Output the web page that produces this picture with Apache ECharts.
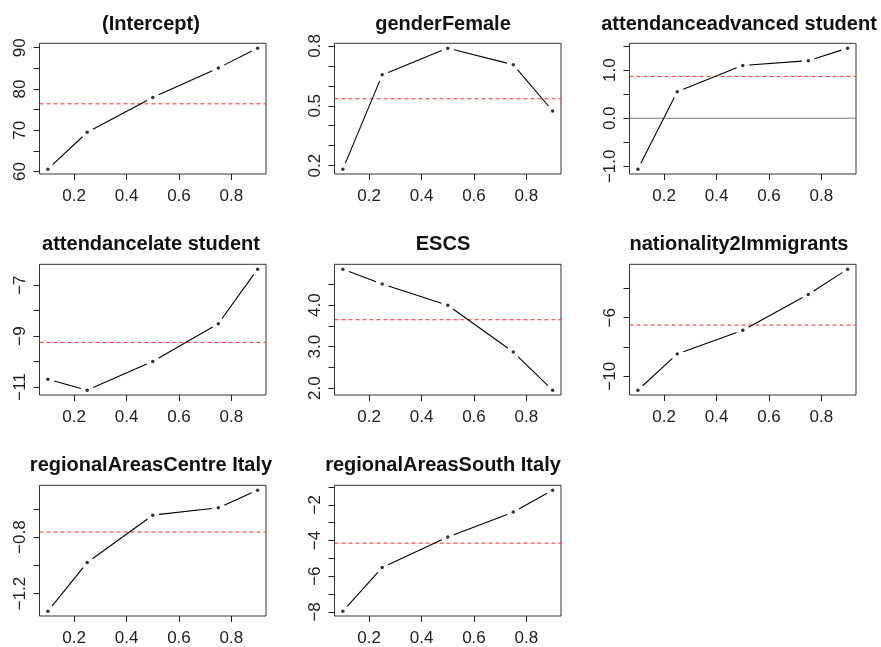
<!DOCTYPE html>
<html>
<head>
<meta charset="utf-8">
<script src="https://cdn.jsdelivr.net/npm/echarts@6/dist/echarts.min.js"></script>
<style>
  html, body { margin: 0; padding: 0; background: #fff; }
  #main { width: 881px; height: 647px; }
</style>
</head>
<body>
<div id="main"></div>
<script>
// quantiles
const tau = [0.1, 0.25, 0.5, 0.75, 0.9];

const panelTitles = [
  '(Intercept)', 'genderFemale', 'attendanceadvanced student',
  'attendancelate student', 'ESCS', 'nationality2Immigrants',
  'regionalAreasCentre Italy', 'regionalAreasSouth Italy'
];

// quantile regression coefficients, one array per term
const qrIntercept  = [60.56, 69.5, 77.96, 85.07, 89.9];
const qrGender     = [0.182, 0.655, 0.789, 0.706, 0.474];
const qrAdvanced   = [-1.06, 0.554, 1.10, 1.20, 1.46];
const qrLate       = [-10.7, -11.13, -10.0, -8.52, -6.37];
const qrESCS       = [4.87, 4.51, 4.0, 2.87, 1.95];
const qrImmigrants = [-10.95, -8.48, -6.86, -4.41, -2.68];
const qrCentre     = [-1.325, -0.981, -0.645, -0.593, -0.468];
const qrSouth      = [-7.96, -5.51, -3.81, -2.41, -1.18];

// OLS estimates (red dashed lines)
const olsEstimates = [76.4, 0.535, 0.872, -9.25, 3.65, -6.5, -0.765, -4.15];

// axis ticks and labels
const xTicks = [0.2, 0.4, 0.6, 0.8];
const yTicks = [
  [60, 65, 70, 75, 80, 85, 90],
  [0.2, 0.3, 0.4, 0.5, 0.6, 0.7, 0.8],
  [-1, -0.5, 0, 0.5, 1, 1.5],
  [-11, -10, -9, -8, -7],
  [2, 2.5, 3, 3.5, 4, 4.5],
  [-10, -8, -6, -4],
  [-1.2, -1.0, -0.8, -0.6],
  [-8, -7, -6, -5, -4, -3, -2, -1]
];
const yLabels = [
  [60, 70, 80, 90],
  [0.2, 0.5, 0.8],
  [-1, 0, 1],
  [-11, -9, -7],
  [2, 3, 4],
  [-10, -6],
  [-1.2, -0.8],
  [-8, -6, -4, -2]
];
const yDecimals = [0, 1, 1, 0, 1, 0, 1, 0];

const coefs = [qrIntercept, qrGender, qrAdvanced, qrLate, qrESCS, qrImmigrants, qrCentre, qrSouth];

const chart = echarts.init(document.getElementById('main'));

const colLeft = [39.5, 334.5, 629.5];
const titleCenter = [151, 443, 739];
const rowTop = [43.3, 264.3, 485.3];
const titleTop = [14, 234, 455];
const boxW = 226.5, boxH = 130.7;
const font = 'Liberation Sans, Arial, Helvetica, sans-serif';
const GAP = 6.5;

const grids = [], xAxes = [], yAxes = [], series = [], titles = [];

function rRange(vals) {
  const lo = Math.min(...vals), hi = Math.max(...vals);
  const d = (hi - lo) * 0.04;
  return [lo - d, hi + d];
}
const xr = rRange(tau);

coefs.forEach((vals, i) => {
  const r = Math.floor(i / 3), c = i % 3;
  grids.push({
    left: colLeft[c], top: rowTop[r], width: boxW, height: boxH,
    show: true, borderColor: '#333', borderWidth: 1, backgroundColor: 'transparent',
    containLabel: false, outerBoundsMode: 'none'
  });
  titles.push({
    text: panelTitles[i], left: titleCenter[c], top: titleTop[r], textAlign: 'center', padding: 0,
    textStyle: { fontFamily: font, fontSize: 20, fontWeight: 'bold', color: '#111' }
  });
  xAxes.push({
    type: 'value', gridIndex: i, min: xr[0], max: xr[1], position: 'bottom',
    axisLine: { show: false, onZero: false }, splitLine: { show: false },
    axisTick: { show: true, length: 6, customValues: xTicks, lineStyle: { color: '#222', width: 1 } },
    axisLabel: { customValues: xTicks, fontFamily: font, fontSize: 17, color: '#222', margin: 14,
      formatter: v => v.toFixed(1) }
  });
  const yr = rRange(vals);
  const dec = yDecimals[i];
  yAxes.push({
    type: 'value', gridIndex: i, min: yr[0], max: yr[1], position: 'left',
    axisLine: { show: false, onZero: false }, splitLine: { show: false },
    axisTick: { show: true, length: 6, customValues: yTicks[i], lineStyle: { color: '#222', width: 1 } },
    axisLabel: { customValues: yLabels[i], rotate: 90, fontFamily: font, fontSize: 17, color: '#222', margin: 11,
      formatter: v => v.toFixed(dec).replace('-', '\u2212') }
  });

  // zero reference line, only where 0 is inside the range
  if (yr[0] < 0 && yr[1] > 0) {
    series.push({
      type: 'line', xAxisIndex: i, yAxisIndex: i, data: [[xr[0], 0], [xr[1], 0]],
      showSymbol: false, silent: true, z: 1,
      lineStyle: { color: '#808080', width: 1, type: 'solid' }
    });
  }
  // OLS estimate
  series.push({
    type: 'line', xAxisIndex: i, yAxisIndex: i, data: [[xr[0], olsEstimates[i]], [xr[1], olsEstimates[i]]],
    showSymbol: false, silent: true, z: 1, color: '#ff2a2a',
    lineStyle: { color: '#ff2a2a', width: 1, type: [4, 3] }
  });

  // line segments with gaps around the points (type = "b")
  const segs = [];
  for (let k = 0; k < tau.length - 1; k++) segs.push([tau[k], vals[k], tau[k + 1], vals[k + 1]]);
  series.push({
    type: 'custom', xAxisIndex: i, yAxisIndex: i, data: segs, z: 2,
    encode: { x: [0, 2], y: [1, 3] }, clip: true, silent: true,
    renderItem: function (params, api) {
      const p0 = api.coord([api.value(0), api.value(1)]);
      const p1 = api.coord([api.value(2), api.value(3)]);
      const dx = p1[0] - p0[0], dy = p1[1] - p0[1];
      const len = Math.sqrt(dx * dx + dy * dy);
      if (len <= 2 * GAP) return null;
      const ux = dx / len, uy = dy / len;
      return {
        type: 'line',
        shape: { x1: p0[0] + ux * GAP, y1: p0[1] + uy * GAP, x2: p1[0] - ux * GAP, y2: p1[1] - uy * GAP },
        style: { stroke: '#000', lineWidth: 1.1 }
      };
    }
  });

  series.push({
    type: 'scatter', xAxisIndex: i, yAxisIndex: i, z: 3,
    data: tau.map((t, k) => [t, vals[k]]),
    symbol: 'circle', symbolSize: 3.5, itemStyle: { color: '#000' }, silent: true
  });
});

chart.setOption({
  animation: false,
  backgroundColor: '#fff',
  title: titles,
  grid: grids,
  xAxis: xAxes,
  yAxis: yAxes,
  series: series
});
</script>
</body>
</html>
